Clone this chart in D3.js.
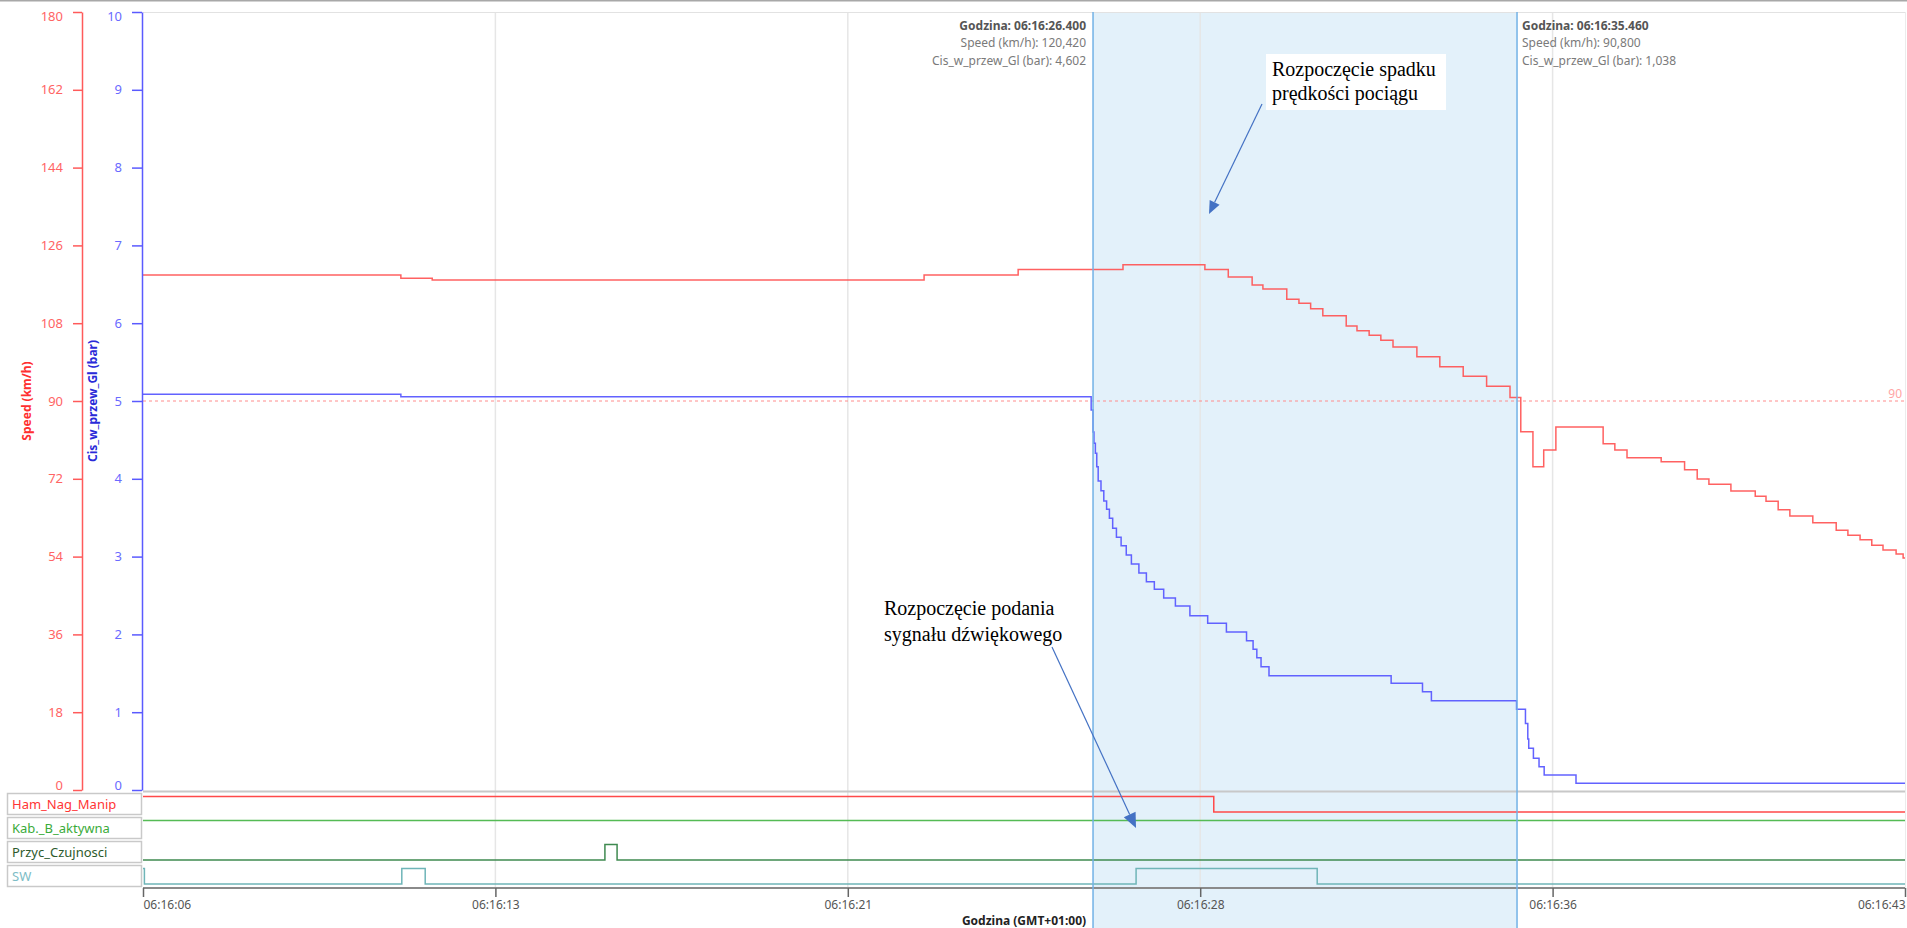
<!DOCTYPE html>
<html>
<head>
<meta charset="utf-8">
<script src="https://cdn.jsdelivr.net/npm/d3@7"></script>
<style>
  html, body { margin: 0; padding: 0; background: #fff; overflow: hidden; }
  svg { display: block; }
</style>
</head>
<body>
<svg id="chart" width="1907" height="928"></svg>
<script>
// Times are seconds after 06:16:00 (GMT+01:00)
const timeStart = 6.10;
const timeEnd = 43.75;

// Speed (km/h), step samples
const speedTimes = [6.10, 11.61, 12.28, 22.79, 24.80, 27.04, 28.79, 29.29, 29.80, 30.03,
  30.54, 30.80, 31.05, 31.31, 31.81, 32.04, 32.30, 32.55, 32.81, 33.32,
  33.81, 34.31, 34.81, 35.31, 35.54, 35.80, 36.03, 36.29, 37.30, 37.55,
  37.81, 38.54, 39.04, 39.31, 39.56, 40.03, 40.55, 40.78, 41.04, 41.29,
  41.78, 42.28, 42.53, 42.79, 43.04, 43.28, 43.56, 43.71];
const speedValues = [119.15, 118.39, 118.00, 119.15, 120.42, 121.54, 120.42, 118.69, 116.84, 115.91,
  113.53, 112.60, 111.36, 109.74, 107.35, 106.27, 105.20, 104.04, 102.50, 100.25,
  97.94, 95.72, 93.40, 90.80, 82.90, 74.80, 78.66, 83.99, 80.12, 78.66,
  76.88, 75.96, 74.11, 71.95, 70.73, 69.18, 67.95, 66.80, 64.85, 63.39,
  61.84, 60.09, 58.93, 57.91, 56.61, 55.53, 54.60, 53.68];

// Brake pipe pressure Cis_w_przew_Gl (bar), step samples
const pressureTimes = [6.10, 11.61, 26.36, 26.40, 26.42, 26.45, 26.48, 26.51, 26.57, 26.63,
  26.69, 26.75, 26.82, 26.90, 27.00, 27.11, 27.22, 27.38, 27.54, 27.71,
  27.91, 28.16, 28.47, 28.85, 29.25, 29.68, 29.82, 29.90, 29.99, 30.16,
  32.77, 33.44, 33.63, 35.45, 35.64, 35.69, 35.71, 35.81, 35.93, 36.04,
  36.72];
const pressureValues = [5.086, 5.055, 4.884, 4.602, 4.456, 4.328, 4.156, 3.972, 3.847, 3.715,
  3.608, 3.492, 3.364, 3.248, 3.140, 3.021, 2.905, 2.789, 2.677, 2.580,
  2.468, 2.365, 2.240, 2.143, 2.031, 1.919, 1.808, 1.700, 1.584, 1.469,
  1.371, 1.263, 1.148, 1.038, 0.855, 0.656, 0.536, 0.407, 0.299, 0.193,
  0.086];

// Speed limit reference line
const speedLimit = 90;

// Axis ticks
const speedTicks = [0, 18, 36, 54, 72, 90, 108, 126, 144, 162, 180];
const pressureTicks = [0, 1, 2, 3, 4, 5, 6, 7, 8, 9, 10];

// Binary signals
const signalNames = ["Ham_Nag_Manip", "Kab._B_aktywna", "Przyc_Czujnosci", "SW"];
const hamTimes = [6.10, 28.98];
const hamValues = [1, 0];
const kabTimes = [6.10];
const kabValues = [1];
const przycTimes = [6.10, 15.97, 16.23];
const przycValues = [0, 1, 0];
const swTimes = [6.10, 6.13, 11.63, 12.13, 27.32, 31.19];
const swValues = [1, 0, 1, 0, 1, 0];

// Cursors
const cursorTimes = [26.400, 35.460];

// Annotations
const annotationTop = ["Rozpoczęcie spadku", "prędkości pociągu"];
const annotationBottom = ["Rozpoczęcie podania", "sygnału dźwiękowego"];

// ---------------------------------------------------------------
const W = 1907, H = 928;
const plotL = 143, plotR = 1905, plotT = 12, plotB = 790;
const axisY = 888;
const rowTops = [793, 817, 841, 865];
const uiFont = "'Noto Sans', 'Open Sans', sans-serif";
const serifFont = "'Liberation Serif', 'Times New Roman', serif";

const toDate = s => new Date(Date.UTC(2000, 0, 1, 6, 16, 0) + Math.round(s * 1000));

const x = d3.scaleUtc().domain([toDate(timeStart), toDate(timeEnd)]).range([plotL, plotR]);
const ySpeed = d3.scaleLinear().domain([0, 180]).range([plotB, plotT]);
const yPress = d3.scaleLinear().domain([0, 10]).range([plotB, plotT]);

const svg = d3.select("#chart");

// window edge
svg.append("line").attr("x1", 0).attr("x2", W).attr("y1", 0.5).attr("y2", 0.5)
  .attr("stroke", "#a8a8a8").attr("stroke-width", 2);

// cursor band
const cx = cursorTimes.map(t => x(toDate(t)));
svg.append("rect").attr("x", cx[0]).attr("y", plotT).attr("width", cx[1] - cx[0]).attr("height", H - plotT)
  .attr("fill", "#e3f1fa");

// time ticks: five equal intervals across the domain
const tickTimes = d3.range(6).map(i => toDate(timeStart + i * (timeEnd - timeStart) / 5));
const fmtTime = d3.utcFormat("%H:%M:%S");

// vertical grid
svg.append("g").selectAll("line").data(tickTimes.slice(1, 5)).join("line")
  .attr("x1", d => x(d)).attr("x2", d => x(d)).attr("y1", plotT).attr("y2", axisY)
  .attr("stroke", "#e6e6e6").attr("stroke-width", 1.5);

// plot frame
svg.append("line").attr("x1", plotL).attr("x2", plotR).attr("y1", plotT + 0.5).attr("y2", plotT + 0.5)
  .attr("stroke", "#e2e2e2").attr("stroke-width", 1);
svg.append("line").attr("x1", plotR + 0.5).attr("x2", plotR + 0.5).attr("y1", plotT).attr("y2", axisY)
  .attr("stroke", "#ececec").attr("stroke-width", 1);
svg.append("line").attr("x1", plotL).attr("x2", plotR).attr("y1", plotB + 1.5).attr("y2", plotB + 1.5)
  .attr("stroke", "#c8c8c8").attr("stroke-width", 2);

// speed limit
svg.append("line").attr("x1", plotL).attr("x2", plotR)
  .attr("y1", ySpeed(speedLimit)).attr("y2", ySpeed(speedLimit))
  .attr("stroke", "#ff8c8c").attr("stroke-width", 1).attr("stroke-dasharray", "3,3");
svg.append("text").attr("x", plotR - 3).attr("y", ySpeed(speedLimit) - 3)
  .attr("text-anchor", "end").attr("font-family", uiFont).attr("font-size", 12)
  .attr("fill", "#ffa5a5").text(String(speedLimit));

// step lines
const series = (times, values) => {
  const pts = times.map((t, i) => ({ t: toDate(t), v: values[i] }));
  pts.push({ t: toDate(timeEnd), v: values[values.length - 1] });
  return pts;
};
const speedData = series(speedTimes, speedValues);
const pressData = series(pressureTimes, pressureValues);

svg.append("path").datum(speedData)
  .attr("d", d3.line().curve(d3.curveStepAfter).x(d => x(d.t)).y(d => ySpeed(d.v)))
  .attr("fill", "none").attr("stroke", "#ff5050").attr("stroke-width", 1.5).attr("stroke-opacity", 0.9);
svg.append("path").datum(pressData)
  .attr("d", d3.line().curve(d3.curveStepAfter).x(d => x(d.t)).y(d => yPress(d.v)))
  .attr("fill", "none").attr("stroke", "#5a5aff").attr("stroke-width", 1.5).attr("stroke-opacity", 0.95);

// binary signal rows
const signalTimes = [hamTimes, kabTimes, przycTimes, swTimes];
const signalValues = [hamValues, kabValues, przycValues, swValues];
const signalLine = ["#ff4a4a", "#55bb55", "#3f8a50", "#6fb5b8"];
const signalText = ["#ff3535", "#3aab3a", "#2d5a2d", "#7dbdc6"];

signalNames.forEach((name, i) => {
  const top = rowTops[i];
  const yr = d3.scaleLinear().domain([0, 1]).range([top + 19, top + 3.5]);
  svg.append("path").datum(series(signalTimes[i], signalValues[i]))
    .attr("d", d3.line().curve(d3.curveStepAfter).x(d => x(d.t)).y(d => yr(d.v)))
    .attr("fill", "none").attr("stroke", signalLine[i]).attr("stroke-width", 1.5);
  svg.append("rect").attr("x", 7.5).attr("y", top + 0.5).attr("width", 134).attr("height", 21)
    .attr("fill", "#fff").attr("stroke", "#c9c9c9").attr("stroke-width", 1.5);
  svg.append("text").attr("x", 12).attr("y", top + 15.5)
    .attr("font-family", uiFont).attr("font-size", 13).attr("fill", signalText[i]).text(name);
});

// time axis
svg.append("line").attr("x1", plotL).attr("x2", plotR).attr("y1", axisY).attr("y2", axisY)
  .attr("stroke", "#8a8a8a").attr("stroke-width", 2);
const xAxis = svg.append("g").attr("transform", `translate(0,${axisY})`)
  .call(d3.axisBottom(x).tickValues(tickTimes).tickFormat(fmtTime).tickSize(9).tickSizeOuter(0));
xAxis.select(".domain").remove();
xAxis.selectAll(".tick line").attr("stroke", "#666").attr("stroke-width", 1.5);
xAxis.selectAll(".tick text").attr("font-family", uiFont).attr("font-size", 12).attr("fill", "#555")
  .attr("y", 12)
  .attr("text-anchor", (d, i) => i === 0 ? "start" : (i === 5 ? "end" : "middle"));
svg.append("text").attr("x", (plotL + plotR) / 2).attr("y", 924.5).attr("text-anchor", "middle")
  .attr("font-family", uiFont).attr("font-size", 12).attr("font-weight", "bold").attr("fill", "#222")
  .text("Godzina (GMT+01:00)");

// value axes; end labels are kept inside the axis span
const styleAxis = (g, color, labelColor, last) => {
  g.select(".domain").attr("stroke", color).attr("stroke-width", 1.5);
  g.selectAll(".tick line").attr("stroke", color).attr("stroke-width", 1.5);
  g.selectAll(".tick text").attr("font-family", uiFont).attr("font-size", 13).attr("fill", labelColor)
    .attr("dy", (d, i) => i === 0 ? "-0.05em" : (i === last ? "0.62em" : "0.32em"));
};
const speedAxis = svg.append("g").attr("transform", "translate(82,0)")
  .call(d3.axisLeft(ySpeed).tickValues(speedTicks).tickSize(9).tickSizeOuter(0).tickPadding(10));
styleAxis(speedAxis, "#ff5a5a", "#ff6464", speedTicks.length - 1);
const pressAxis = svg.append("g").attr("transform", "translate(142,0)")
  .call(d3.axisLeft(yPress).tickValues(pressureTicks).tickSize(10).tickSizeOuter(0).tickPadding(10));
styleAxis(pressAxis, "#5a5aff", "#6a6aff", pressureTicks.length - 1);

svg.append("text").attr("transform", `translate(31,${(plotT + plotB) / 2}) rotate(-90)`)
  .attr("text-anchor", "middle").attr("font-family", uiFont).attr("font-size", 12)
  .attr("font-weight", "bold").attr("fill", "#ff3030").text("Speed (km/h)");
svg.append("text").attr("transform", `translate(97,${(plotT + plotB) / 2}) rotate(-90)`)
  .attr("text-anchor", "middle").attr("font-family", uiFont).attr("font-size", 12)
  .attr("font-weight", "bold").attr("fill", "#2a2ad8").text("Cis_w_przew_Gl (bar)");

// cursors and their readouts
const valueAt = (times, values, t) => values[d3.bisectRight(times, t + 1e-9) - 1];
const fmtNum = v => d3.format(".3f")(v).replace(".", ",");
const fmtCursor = t => {
  const d = toDate(t);
  return d3.utcFormat("%H:%M:%S")(d) + "." + d3.format("03d")(d.getUTCMilliseconds());
};
cursorTimes.forEach((t, i) => {
  svg.append("line").attr("x1", cx[i]).attr("x2", cx[i]).attr("y1", plotT).attr("y2", H)
    .attr("stroke", "#72b2e6").attr("stroke-width", 1.5);
  const right = i === 0;
  const tx = right ? cx[i] - 7 : cx[i] + 5;
  const lines = [
    "Godzina: " + fmtCursor(t),
    "Speed (km/h): " + fmtNum(valueAt(speedTimes, speedValues, t)),
    "Cis_w_przew_Gl (bar): " + fmtNum(valueAt(pressureTimes, pressureValues, t))
  ];
  lines.forEach((s, k) => {
    svg.append("text").attr("x", tx).attr("y", 29.5 + k * 17.5)
      .attr("text-anchor", right ? "end" : "start")
      .attr("font-family", uiFont).attr("font-size", 12)
      .attr("font-weight", k === 0 ? "bold" : "normal")
      .attr("fill", k === 0 ? "#555" : "#7a7a7a").text(s);
  });
});

// annotations with arrows
const arrow = (x1, y1, x2, y2, len, half) => {
  const a = Math.atan2(y2 - y1, x2 - x1);
  const bx = x2 - len * Math.cos(a), by = y2 - len * Math.sin(a);
  svg.append("line").attr("x1", x1).attr("y1", y1).attr("x2", bx).attr("y2", by)
    .attr("stroke", "#4472c4").attr("stroke-width", 1.2);
  const px = -Math.sin(a) * half, py = Math.cos(a) * half;
  svg.append("polygon")
    .attr("points", [[x2, y2], [bx + px, by + py], [bx - px, by - py]].map(p => p.join(",")).join(" "))
    .attr("fill", "#4472c4");
};

arrow(1262, 104, 1209, 214, 13, 5.5);
svg.append("rect").attr("x", 1266).attr("y", 54).attr("width", 180).attr("height", 56).attr("fill", "#fff");
annotationTop.forEach((s, k) => {
  svg.append("text").attr("x", 1272).attr("y", 76 + k * 24)
    .attr("font-family", serifFont).attr("font-size", 20).attr("fill", "#000").text(s);
});

annotationBottom.forEach((s, k) => {
  svg.append("text").attr("x", 884).attr("y", 615 + k * 26)
    .attr("font-family", serifFont).attr("font-size", 20).attr("fill", "#000").text(s);
});
arrow(1052, 647, 1136, 828, 15, 6.5);
</script>
</body>
</html>
